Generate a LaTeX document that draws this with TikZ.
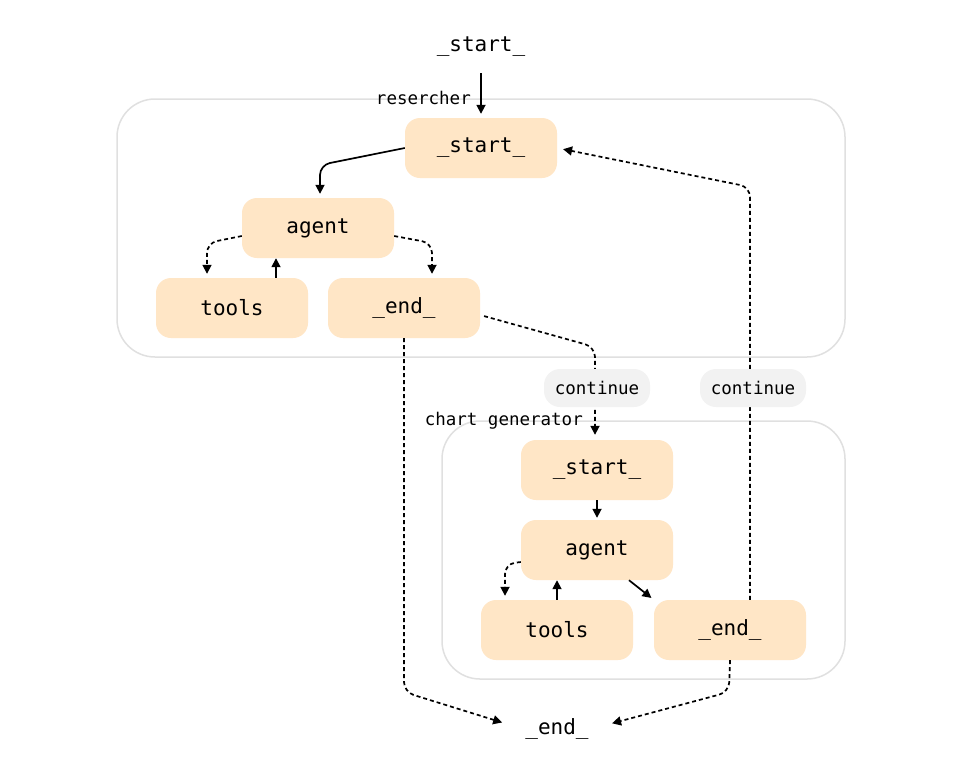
\documentclass[tikz,border=0pt]{standalone}
\usepackage{fontspec}
\setmonofont{DejaVu Sans Mono}
\usetikzlibrary{arrows.meta,calc}
\definecolor{nodefill}{HTML}{FFE6C6}
\definecolor{clusterline}{HTML}{E0E0E0}
\definecolor{labelfill}{HTML}{F2F2F2}
\tikzset{
  gnode/.style={rectangle, rounded corners=15pt, fill=nodefill, minimum width=152pt, minimum height=60pt, inner sep=0pt, font=\ttfamily\fontsize{21}{24}\selectfont},
  plaintext/.style={inner sep=2pt, font=\ttfamily\fontsize{21}{24}\selectfont},
  cluster/.style={draw=clusterline, line width=1.5pt, rounded corners=38pt, fill=white},
  clabel/.style={inner sep=0pt, font=\ttfamily\fontsize{17.5}{20}\selectfont},
  elabel/.style={rectangle, rounded corners=16pt, fill=labelfill, minimum width=106pt, minimum height=38pt, inner sep=0pt, font=\ttfamily\fontsize{17.5}{20}\selectfont},
  solidedge/.style={line width=1.7pt, -{Triangle[length=9pt,width=9pt]}, rounded corners=10pt},
  dotedge/.style={line width=1.7pt, dash pattern=on 4pt off 3pt, -{Triangle[length=9pt,width=9pt]}, rounded corners=10pt},
}
\begin{document}
\begin{tikzpicture}[x=1pt,y=-1pt]
\useasboundingbox (0,0) rectangle (960,780);
% clusters
\draw[cluster] (117,99) rectangle (845,357);
\node[clabel, anchor=east] (lres) at (471,98) {resercher};
\draw[cluster] (442,421) rectangle (845,679);
\node[clabel, anchor=east] (lchart) at (583,421) {chart generator};
% nodes
\node[plaintext] (ts) at (481,47) {\_start\_};
\node[gnode] (rs) at (481,148) {\_start\_};
\node[gnode] (ra) at (318,228) {agent};
\node[gnode] (rt) at (232,308) {tools};
\node[gnode] (re) at (404,308) {\_end\_};
\node[gnode] (cs) at (597,470) {\_start\_};
\node[gnode] (ca) at (597,550) {agent};
\node[gnode] (ct) at (557,630) {tools};
\node[gnode] (ce) at (730,630) {\_end\_};
\node[plaintext] (fe) at (557,729) {\_end\_};
% edges
\draw[solidedge, shorten <=14pt, shorten >=4pt] (ts.south) -- (rs.north);
\draw[solidedge, shorten >=4pt] (rs.west) -- (320,165) -- (ra.north -| 320,0);
\draw[dotedge, shorten >=4pt] ([yshift=-8pt]ra.west) -- (207,243) -- ([xshift=-25pt]rt.north);
\draw[solidedge] ([xshift=44pt]rt.north) -- ([xshift=-42pt]ra.south);
\draw[dotedge, shorten >=4pt] ([yshift=-8pt]ra.east) -- (432,243) -- ([xshift=28pt]re.north);
\draw[dotedge, shorten <=4pt, shorten >=5pt] ([yshift=-7pt]re.east) -- (595,347) -- ([xshift=-2pt]cs.north);
\draw[dotedge, shorten >=22pt] (re.south) -- (404,692) -- (fe.west);
\draw[solidedge, shorten >=2pt] (cs.south) -- (ca.north);
\draw[dotedge, shorten >=4pt] ([yshift=-12pt]ca.west) -- (505,564) -- ([xshift=-52pt]ct.north);
\draw[solidedge] (ct.north) -- (ct.north |- ca.south);
\draw[solidedge, shorten >=3pt] ([xshift=32pt]ca.south) -- (ce.north west);
\draw[dotedge, shorten >=6pt] ([xshift=20pt]ce.north) -- (750,187) -- (rs.east);
\draw[dotedge, shorten >=22pt] (ce.south) -- (729,692) -- (fe.east);
% edge labels
\node[elabel] (l1) at (597,388) {continue};
\node[elabel] (l2) at (753,388) {continue};
\end{tikzpicture}
\end{document}
